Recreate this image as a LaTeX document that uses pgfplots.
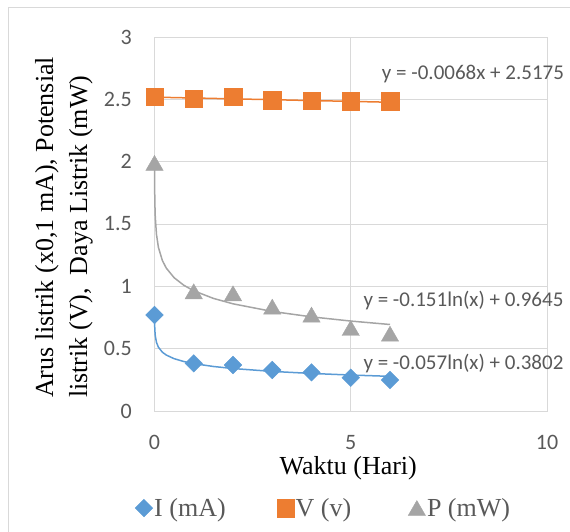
\documentclass[border=0pt]{standalone}
\usepackage{fontspec}
\setmainfont{Liberation Serif}
\newfontfamily\calibri{Carlito}
\usepackage{pgfplots}
\pgfplotsset{compat=1.18}
\definecolor{cI}{HTML}{5B9BD5}
\definecolor{cV}{HTML}{ED7D31}
\definecolor{cP}{HTML}{A5A5A5}
\definecolor{gridc}{HTML}{D9D9D9}
\definecolor{txt}{HTML}{595959}
\begin{document}
\begin{tikzpicture}[x=1pt,y=1pt]
\path[use as bounding box] (0,0) rectangle (570,531);
\draw[gridc, line width=1pt] (8,-10) rectangle (590,523.5);
\begin{axis}[
  at={(154.5pt,120pt)}, anchor=south west,
  width=392.5pt, height=374pt, scale only axis,
  xmin=0, xmax=10, ymin=0, ymax=3,
  xtick={0,5,10}, ytick={0,0.5,1,1.5,2,2.5,3},
  yticklabels={0,0.5,1,1.5,2,2.5,3},
  grid=major,
  major grid style={draw=gridc, line width=1pt},
  axis line style={draw=gridc, line width=1pt},
  major tick length=0pt,
  /pgf/number format/assume math mode=true,
  tick label style={font=\calibri\fontsize{22}{26}\selectfont, text=txt},
  xticklabel style={anchor=north, inner sep=0pt, yshift=-24pt},
  yticklabel style={anchor=east, inner sep=0pt, xshift=-22.5pt},
  xlabel={Waktu (Hari)},
  xlabel style={at={(axis description cs:0.5,0)}, anchor=base, inner sep=0pt, yshift=-63pt, xshift=-2.5pt, font=\fontsize{26}{31}\selectfont},
  clip=false,
  legend columns=3,
  legend cell align=left,
  legend image code/.code={\draw[#1] plot coordinates {(0pt,0pt)};},
  legend style={draw=none, fill=none, inner sep=0pt,
    at={(-0.0497,-0.2594)}, anchor=west,
    font=\fontsize{26}{31}\selectfont, text=txt,
    nodes={inner xsep=1.5pt, inner ysep=0pt},
    /tikz/column 2/.style={column sep=49.5pt},
    /tikz/column 4/.style={column sep=55.5pt}},
]
% trendlines
\addplot[cP, line width=1.5pt, forget plot] coordinates {
 (0.001,2.0076) (0.002,1.9029) (0.005,1.7645) (0.01,1.6599) (0.02,1.5552)
 (0.05,1.4169) (0.1,1.3122) (0.2,1.2075) (0.3,1.1463) (0.5,1.0692)
 (0.75,1.0079) (1,0.9645) (1.5,0.9033) (2,0.8598) (3,0.7986) (4,0.7552)
 (5,0.7215) (6,0.6939)};
\addplot[cI, line width=1.5pt, forget plot] coordinates {
 (0.001,0.7739) (0.002,0.7344) (0.005,0.6822) (0.01,0.6427) (0.02,0.6032)
 (0.05,0.5510) (0.1,0.5114) (0.2,0.4719) (0.3,0.4488) (0.5,0.4197)
 (0.75,0.3966) (1,0.3802) (1.5,0.3571) (2,0.3407) (3,0.3176) (4,0.3012)
 (5,0.2885) (6,0.2781)};
\addplot[cV, line width=1.5pt, forget plot] coordinates {(0,2.5175) (6,2.4767)};
% data
\addplot[only marks, mark=square*, mark size=6.2pt, mark options={rotate=45, draw=cI, fill=cI}] coordinates {
 (0,0.77) (1,0.382) (2,0.369) (3,0.329) (4,0.31) (5,0.267) (6,0.249)};
\addlegendentry{I (mA)}
\addplot[only marks, mark=square*, mark size=8.7pt, mark options={draw=cV, fill=cV}] coordinates {
 (0,2.521) (1,2.503) (2,2.521) (3,2.492) (4,2.49) (5,2.484) (6,2.484)};
\addlegendentry{V (v)}
\addplot[only marks, mark=triangle*, mark size=10pt, mark options={draw=cP, fill=cP, yshift=-2.5pt}] coordinates {
 (0,1.99) (1,0.96) (2,0.944) (3,0.837) (4,0.773) (5,0.666) (6,0.62)};
\addlegendentry{P (mW)}
% trendline equations
\node[anchor=base west, inner sep=0pt, text=txt, font=\calibri\fontsize{21}{25}\selectfont] at (axis cs:5.79,2.658) {y = -0.0068x + 2.5175};
\node[anchor=base west, inner sep=0pt, text=txt, font=\calibri\fontsize{21}{25}\selectfont] at (axis cs:5.32,0.837) {y = -0.151ln(x) + 0.9645};
\node[anchor=base west, inner sep=0pt, text=txt, font=\calibri\fontsize{21}{25}\selectfont] at (axis cs:5.32,0.334) {y = -0.057ln(x) + 0.3802};
\end{axis}
\node[rotate=90, anchor=base west, inner sep=0pt, font=\fontsize{26}{31}\selectfont] at (53,133) {Arus listrik (x0,1 mA), Potensial};
\node[rotate=90, anchor=base west, inner sep=0pt, font=\fontsize{26}{31}\selectfont] at (87,133) {listrik (V),\ \ Daya Listrik (mW)};
\end{tikzpicture}
\end{document}
